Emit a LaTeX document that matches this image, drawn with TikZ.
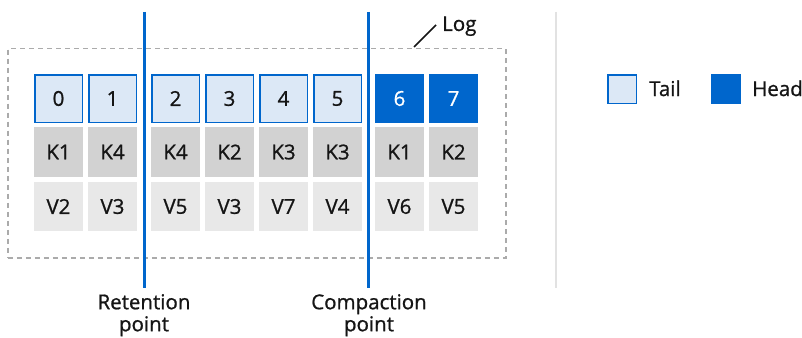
\documentclass[tikz,border=0pt]{standalone}
\usepackage{fontspec}
\setmainfont[FakeBold=0.9]{Open Sans}
\definecolor{rhblue}{HTML}{0066CC}
\definecolor{lightblue}{HTML}{DCE8F6}
\definecolor{kgray}{HTML}{D2D2D2}
\definecolor{vgray}{HTML}{E8E8E8}
\definecolor{txt}{HTML}{151515}
\definecolor{dashgray}{HTML}{ABABAB}
\definecolor{sepgray}{HTML}{E2E2E2}
\begin{document}
\begin{tikzpicture}[x=1pt,y=-1pt,
  every node/.style={font=\fontsize{20.5}{22}\selectfont, text=txt},
  tailcell/.style={draw=rhblue, line width=1.5pt, fill=lightblue, minimum width=47.5pt, minimum height=47.5pt, inner sep=0pt},
  headcell/.style={draw=rhblue, line width=1.5pt, fill=rhblue, text=white, minimum width=47.5pt, minimum height=47.5pt, inner sep=0pt},
  keycell/.style={fill=kgray, minimum width=49pt, minimum height=50pt, inner sep=0pt},
  valcell/.style={fill=vgray, minimum width=49pt, minimum height=49pt, inner sep=0pt},
  marker/.style={draw=rhblue, line width=3pt},
  marklabel/.style={align=center, anchor=north, inner sep=0pt}
]
\useasboundingbox (0,0) rectangle (802,337);
\fill[white] (0,0) rectangle (802,337);
% log box
\node[draw=dashgray, line width=1.5pt, dash pattern=on 5pt off 4pt, minimum width=498pt, minimum height=209pt, inner sep=0pt, anchor=north west] (log) at (7,48) {};
% cells
\foreach \i/\x/\k/\v in {0/58.5/K1/V2, 1/112.5/K4/V3, 2/175.5/K4/V5, 3/229.5/K2/V3, 4/283.5/K3/V7, 5/337.5/K3/V4}{
  \node[tailcell] (i\i) at (\x,98.5) {\i};
  \node[keycell] (k\i) at (\x,152) {\k};
  \node[valcell] (v\i) at (\x,206.5) {\v};
}
\foreach \i/\x/\k/\v in {6/399.5/K1/V6, 7/453.5/K2/V5}{
  \node[headcell] (i\i) at (\x,98.5) {\i};
  \node[keycell] (k\i) at (\x,152) {\k};
  \node[valcell] (v\i) at (\x,206.5) {\v};
}
% markers
\coordinate (rt) at (144,12); \coordinate (rb) at (144,288);
\coordinate (ct) at (368,12); \coordinate (cb) at (368,288);
\draw[marker] (rt) -- (rb);
\draw[marker] (ct) -- (cb);
\node[marklabel] (rlab) at (144,294) {Retention\\point};
\node[marklabel] (clab) at (369,294) {Compaction\\point};
% log label
\node[anchor=base west, inner sep=0pt] (loglab) at (442,31) {Log};
\coordinate (lead) at (414,47);
\draw[txt, line width=1.5pt] (lead) -- (436,25);
% separator
\coordinate (st) at (556,12); \coordinate (sb) at (556,288);
\draw[sepgray, line width=1.5pt] (st) -- (sb);
% legend
\node[draw=rhblue, line width=1.5pt, fill=lightblue, minimum size=28.5pt, inner sep=0pt] (ltail) at (622,89) {};
\node[anchor=base west, inner sep=0pt] (ltailt) at (649,96) {Tail};
\node[draw=rhblue, line width=1.5pt, fill=rhblue, minimum size=28.5pt, inner sep=0pt] (lhead) at (725.5,89) {};
\node[anchor=base west, inner sep=0pt] (lheadt) at (752,96) {Head};
\end{tikzpicture}
\end{document}
